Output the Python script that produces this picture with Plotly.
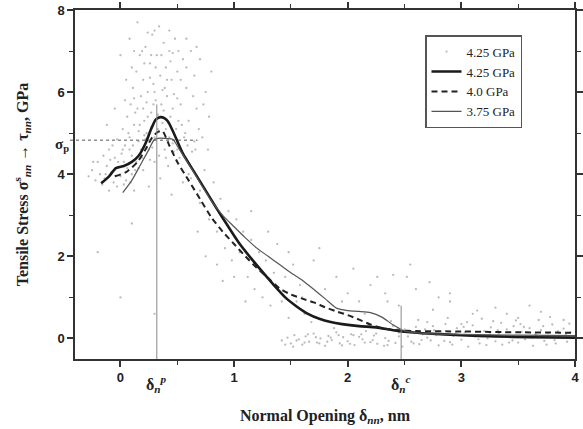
import plotly.graph_objects as go

# ---- data ----
thick_x = [-0.17, -0.1, -0.04, 0.03, 0.1, 0.16, 0.22, 0.27, 0.31, 0.35, 0.39, 0.42, 0.47, 0.55, 0.65, 0.75, 0.85, 0.95,
           1.05, 1.15, 1.25, 1.35, 1.45, 1.55, 1.65, 1.75, 1.85, 1.95, 2.1, 2.25, 2.4, 2.55, 2.7, 3.0, 3.3, 3.6, 4.0]
thick_y = [3.78, 3.95, 4.15, 4.2, 4.3, 4.45, 4.75, 5.1, 5.33, 5.39, 5.36, 5.28, 5.0, 4.5, 4.05, 3.6, 3.15, 2.72,
           2.3, 1.95, 1.62, 1.3, 1.0, 0.78, 0.6, 0.48, 0.4, 0.35, 0.3, 0.27, 0.2, 0.15, 0.12, 0.08, 0.05, 0.03, 0.02]

dash_x = [-0.05, 0.05, 0.15, 0.22, 0.28, 0.33, 0.37, 0.43, 0.5, 0.6, 0.7, 0.8, 0.9, 1.0, 1.1, 1.2, 1.3, 1.4, 1.5,
          1.6, 1.7, 1.8, 1.9, 2.0, 2.1, 2.2, 2.3, 2.45, 2.6, 3.0, 3.5, 4.0]
dash_y = [3.95, 4.05, 4.3, 4.6, 4.9, 5.03, 5.05, 4.7, 4.3, 3.85, 3.4, 2.95, 2.6, 2.3, 2.0, 1.72, 1.47, 1.22, 1.07,
          0.97, 0.88, 0.76, 0.66, 0.57, 0.46, 0.34, 0.25, 0.2, 0.18, 0.17, 0.15, 0.14]

thin_x = [0.02, 0.1, 0.18, 0.25, 0.3, 0.35, 0.4, 0.46, 0.52, 0.6, 0.7, 0.8, 0.9, 1.0, 1.1, 1.2, 1.3, 1.4, 1.5, 1.6,
          1.7, 1.8, 1.9, 2.0, 2.1, 2.2, 2.3, 2.4, 2.5, 2.7, 3.0, 3.5, 4.0]
thin_y = [3.55, 3.85, 4.25, 4.6, 4.85, 4.88, 4.87, 4.85, 4.6, 4.25, 3.8, 3.35, 3.0, 2.72, 2.45, 2.2, 2.0, 1.8, 1.6,
          1.42, 1.2, 0.97, 0.74, 0.68, 0.66, 0.63, 0.52, 0.33, 0.18, 0.12, 0.1, 0.08, 0.07]

# scattered raw data points (4.25 GPa) as (x, y) pairs
cloud_pts = [(-0.28, 3.95), (-0.25, 4.1), (-0.22, 3.85), (-0.2, 4.3), (-0.18, 4.0), (-0.15, 4.45), (-0.14, 3.9),
             (-0.12, 4.2), (-0.1, 4.6), (-0.08, 4.05), (-0.06, 3.8), (-0.05, 4.4), (-0.03, 4.85), (-0.02, 4.15),
             (0.0, 3.95), (0.01, 4.5), (0.02, 5.1), (0.03, 4.3), (0.04, 4.7), (0.05, 3.85), (0.06, 5.4),
             (0.07, 4.25), (0.08, 4.9), (0.09, 5.7), (0.1, 4.45), (0.11, 6.1), (0.12, 5.2), (0.13, 4.1),
             (0.14, 6.5), (0.15, 5.6), (0.16, 4.8), (0.17, 6.9), (0.18, 5.9), (0.19, 4.4), (0.2, 6.3),
             (0.21, 5.3), (0.22, 7.1), (0.23, 5.0), (0.24, 6.0), (0.25, 4.6), (0.26, 6.7), (0.27, 5.5),
             (0.28, 7.4), (0.29, 6.2), (0.3, 4.9), (0.31, 5.8), (0.32, 6.9), (0.33, 5.1), (0.34, 7.6),
             (0.35, 6.4), (0.36, 5.7), (0.37, 6.05), (0.38, 7.2), (0.39, 4.6), (0.4, 6.6), (0.41, 5.9),
             (0.42, 4.2), (0.43, 7.0), (0.44, 5.4), (0.45, 6.3), (0.46, 4.75), (0.47, 5.95), (0.48, 7.3),
             (0.49, 5.1), (0.5, 6.5), (0.52, 4.4), (0.53, 5.7), (0.55, 6.8), (0.56, 4.9), (0.58, 6.1),
             (0.6, 5.3), (0.62, 7.0), (0.63, 4.55), (0.65, 6.4), (0.67, 5.6), (0.7, 6.8), (0.72, 4.9),
             (0.75, 6.0), (0.78, 5.4), (0.8, 6.5), (0.05, 6.3), (-0.05, 5.6), (0.0, 6.9), (0.08, 7.3),
             (0.15, 7.7), (-0.12, 5.2), (0.25, 3.7), (0.12, 3.6), (0.35, 3.9), (0.45, 3.5), (0.55, 3.8),
             (-0.1, 3.6), (0.2, 4.1), (0.3, 4.3), (0.4, 4.4), (0.5, 4.6), (0.6, 4.0), (0.65, 4.8), (0.7, 3.6),
             (0.33, 5.45), (0.27, 5.15), (0.22, 4.85), (0.18, 4.6), (0.38, 5.55), (0.42, 5.25), (0.14, 4.3),
             (0.1, 4.0), (0.06, 4.15), (-0.02, 4.3), (-0.2, 2.1), (0.0, 1.0), (0.3, 0.6), (0.1, 2.8),
             (-0.16, 3.75), (-0.09, 4.35), (0.03, 3.75), (0.08, 4.6), (0.16, 5.05), (0.24, 5.4), (0.29, 5.7),
             (0.4, 5.1), (0.46, 5.6), (0.51, 5.3), (0.57, 5.0), (0.2, 5.6), (0.12, 5.85), (0.26, 6.35),
             (0.31, 6.6), (0.36, 6.9), (0.41, 6.3), (0.19, 7.0), (0.24, 7.45), (0.44, 6.75), (0.51, 7.0),
             (0.02, 4.6), (0.07, 5.0), (0.11, 4.7), (0.13, 5.5), (0.17, 5.2), (0.21, 4.95), (0.23, 5.75),
             (0.28, 4.65), (0.3, 6.0), (0.34, 4.45), (0.37, 5.25), (0.43, 4.9), (0.47, 4.55), (0.5, 5.85),
             (0.54, 5.2), (0.59, 4.7), (0.64, 5.9), (0.69, 5.1), (0.73, 5.7), (0.77, 4.6), (-0.07, 4.7),
             (-0.13, 4.0), (-0.24, 4.3), (-0.03, 3.7), (0.09, 3.8), (0.16, 4.15), (0.26, 4.35), (0.04, 5.8),
             (0.1, 6.6), (0.27, 6.9), (0.39, 6.1), (0.46, 6.95), (0.53, 6.3), (0.58, 6.6), (0.67, 7.1),
             (0.3, 7.5), (0.21, 6.7), (0.43, 7.5), (0.58, 7.3), (0.12, 7.0)]

tail_pts = [(0.62, 3.9), (0.66, 4.6), (0.7, 3.3), (0.74, 4.1), (0.78, 2.9), (0.82, 3.8), (0.85, 2.6), (0.88, 3.4),
            (0.92, 2.2), (0.95, 3.1), (0.98, 1.9), (1.02, 2.9), (1.05, 2.1), (1.08, 2.6), (1.12, 1.5), (1.15, 2.4),
            (1.18, 1.2), (1.22, 2.1), (1.25, 1.0), (1.28, 1.9), (1.32, 0.8), (1.35, 1.6), (1.38, 2.3), (1.42, 0.9),
            (1.45, 1.5), (1.48, 0.5), (1.52, 1.8), (1.55, 0.9), (1.58, 1.3), (1.62, 0.6), (0.9, 1.4), (0.75, 2.0),
            (1.1, 0.9), (1.7, 1.9), (1.8, 1.2), (1.9, 1.5), (2.0, 1.1), (2.1, 0.9), (2.2, 1.3), (2.35, 0.9),
            (2.55, 1.8), (2.6, 1.2), (2.75, 0.7), (2.9, 0.9), (3.1, 0.6), (3.3, 0.75), (3.5, 0.5), (3.7, 0.65),
            (3.9, 0.45), (2.4, 1.55), (2.05, 1.7), (1.75, 2.2), (2.26, 1.5), (2.52, 1.5), (2.72, 1.37),
            (2.9, 1.1), (2.33, 1.1), (3.14, 0.68),
            (0.68, 2.6), (0.85, 1.8), (1.0, 1.5), (1.15, 3.1), (1.3, 2.6), (1.48, 2.1), (1.6, 1.0), (1.68, 0.4),
            (1.95, 0.9), (2.15, 0.6), (2.45, 0.8), (2.8, 1.0), (3.0, 0.35), (3.4, 0.6), (3.6, 0.8)]

band_pts = [(1.42, -0.05), (1.47, 0.02), (1.5, -0.12), (1.53, 0.08), (1.57, -0.02), (1.6, -0.15), (1.63, 0.05),
            (1.66, -0.08), (1.7, 0.12), (1.73, -0.1), (1.76, 0.0), (1.8, -0.18), (1.83, 0.06), (1.86, -0.04),
            (1.9, 0.15), (1.93, -0.12), (1.96, 0.03), (2.0, -0.07), (2.03, 0.1), (2.06, -0.16), (2.1, 0.04),
            (2.13, -0.02), (2.16, 0.18), (2.2, -0.09), (2.23, 0.07), (2.26, -0.13), (2.3, 0.25), (2.33, 0.01),
            (2.36, -0.06), (2.4, 0.3), (2.42, -0.11), (2.45, 0.14), (2.48, -0.2), (2.5, 0.22), (2.53, 0.05),
            (2.56, -0.08), (2.6, 0.28), (2.63, -0.14), (2.66, 0.1), (2.7, 0.02), (2.73, -0.05), (2.76, 0.2),
            (2.8, -0.17), (2.83, 0.12), (2.86, 0.35), (2.9, -0.09), (2.93, 0.06), (2.96, 0.25), (3.0, -0.03),
            (3.03, 0.15), (3.06, -0.2), (3.1, 0.32), (3.13, 0.08), (3.16, -0.12), (3.2, 0.18), (3.23, 0.0),
            (3.26, 0.27), (3.3, -0.07), (3.33, 0.12), (3.36, -0.15), (3.4, 0.22), (3.43, 0.04), (3.46, 0.3),
            (3.5, -0.1), (3.53, 0.16), (3.56, -0.02), (3.6, 0.25), (3.63, -0.18), (3.66, 0.08), (3.7, 0.2),
            (3.73, -0.06), (3.76, 0.13), (3.8, 0.34), (3.83, -0.12), (3.86, 0.05), (3.9, 0.24), (3.93, -0.08),
            (3.96, 0.15), (3.99, 0.02),
            (1.45, -0.15), (1.55, -0.05), (1.65, 0.1), (1.75, -0.12), (1.85, 0.02), (1.95, -0.17), (2.05, 0.08),
            (2.15, -0.1), (2.25, 0.12), (2.35, -0.16), (2.45, 0.05), (2.55, 0.18), (2.65, -0.04), (2.75, 0.3),
            (2.85, -0.06), (2.95, 0.12), (3.05, 0.4), (3.15, -0.02), (3.25, 0.1), (3.35, 0.38), (3.45, -0.05),
            (3.55, 0.28), (3.65, 0.1), (3.75, -0.15), (3.85, 0.18), (3.95, 0.36), (2.38, 0.42), (2.62, 0.45),
            (2.88, 0.5), (3.18, 0.48), (3.48, 0.44), (3.78, 0.52),
            (1.52, -0.2), (1.62, -0.1), (1.72, 0.03), (1.82, -0.08), (1.92, 0.08), (2.02, -0.13), (2.12, 0.1),
            (2.22, -0.04), (2.32, -0.18), (2.44, 0.25), (2.58, -0.12), (2.68, 0.22), (2.78, 0.08), (2.92, -0.15),
            (3.02, 0.28), (3.12, 0.05), (3.22, -0.16), (3.32, 0.2), (3.42, -0.1), (3.52, 0.35), (3.62, 0.02),
            (3.72, 0.3), (3.82, -0.04), (3.92, 0.1), (1.88, 0.25), (2.18, 0.3), (2.7, 0.4), (3.28, 0.42),
            (3.68, 0.45)]

legend_names = ["4.25 GPa", "4.25 GPa", "4.0 GPa", "3.75 GPa"]
x_ticks = [0, 1, 2, 3, 4]
y_ticks = [0, 2, 4, 6, 8]
sigma_p = 4.83
delta_p = 0.32
delta_c = 2.47

SERIF = "Liberation Serif"
SANS = "Liberation Sans"

raw = cloud_pts + tail_pts + band_pts
raw_x = [p[0] for p in raw]
raw_y = [p[1] for p in raw]

fig = go.Figure()
fig.add_trace(go.Scatter(x=raw_x, y=raw_y, mode="markers", name=legend_names[0],
                         marker=dict(size=2.3, color="rgba(120,120,120,0.5)")))
fig.add_trace(go.Scatter(x=thick_x, y=thick_y, mode="lines", name=legend_names[1],
                         line=dict(color="#1a1a1a", width=2.6, shape="spline", smoothing=0.6)))
fig.add_trace(go.Scatter(x=dash_x, y=dash_y, mode="lines", name=legend_names[2],
                         line=dict(color="#222222", width=2, dash="6px,4px", shape="spline", smoothing=0.6)))
fig.add_trace(go.Scatter(x=thin_x, y=thin_y, mode="lines", name=legend_names[3],
                         line=dict(color="#555555", width=1.2, shape="spline", smoothing=0.6)))

# reference lines
fig.add_shape(type="line", xref="paper", yref="y", x0=-0.01, x1=0.245, y0=sigma_p, y1=sigma_p,
              line=dict(color="#555", width=1, dash="dot"))
fig.add_shape(type="line", xref="x", yref="y", x0=delta_p, x1=delta_p, y0=-0.5, y1=5.7,
              line=dict(color="#888", width=1))
fig.add_shape(type="line", xref="x", yref="y", x0=delta_c, x1=delta_c, y0=-0.5, y1=0.8,
              line=dict(color="#888", width=1))

fig.add_annotation(xref="paper", yref="y", x=-0.008, y=sigma_p - 0.12, text="<b>σ<sub>p</sub></b>",
                   showarrow=False, xanchor="right", yanchor="middle",
                   font=dict(family=SERIF, size=15, color="#222"))
fig.add_annotation(xref="x", yref="paper", x=delta_p, y=-0.035, text="<b>δ<sub><i>n</i></sub><sup><i>p</i></sup></b>",
                   showarrow=False, xanchor="center", yanchor="top",
                   font=dict(family=SERIF, size=16, color="#222"))
fig.add_annotation(xref="x", yref="paper", x=delta_c, y=-0.035, text="<b>δ<sub><i>n</i></sub><sup><i>c</i></sup></b>",
                   showarrow=False, xanchor="center", yanchor="top",
                   font=dict(family=SERIF, size=16, color="#222"))

axis_common = dict(showline=True, linecolor="#333", linewidth=1.5, mirror="allticks", ticks="outside",
                   ticklen=6, tickwidth=1.5, tickcolor="#333", showgrid=False, zeroline=False,
                   automargin=False,
                   tickfont=dict(family=SANS, size=13, color="#222", weight="bold"))

fig.update_xaxes(range=[-0.4, 4.0], tickvals=x_ticks, ticktext=[str(v) for v in x_ticks],
                 minor=dict(tickvals=[0.5, 1.5, 2.5, 3.5], ticklen=4, tickwidth=1.2, tickcolor="#333",
                            ticks="outside"),
                 title=dict(text="<b>Normal Opening δ<sub><i>nn</i></sub>, nm</b>", standoff=25,
                            font=dict(family=SERIF, size=16, color="#222")),
                 **axis_common)
fig.update_yaxes(range=[-0.5, 8.0], tickvals=y_ticks, ticktext=[str(v) for v in y_ticks],
                 minor=dict(tickvals=[1, 3, 5, 7], ticklen=4, tickwidth=1.2, tickcolor="#333",
                            ticks="outside"),
                 title=dict(text="<b>Tensile Stress σ<sup>s</sup><sub><i>nn</i></sub> → τ<sub><i>nn</i></sub>, GPa</b>",
                            standoff=25, font=dict(family=SERIF, size=16, color="#222")),
                 **axis_common)

fig.update_layout(
    width=583, height=429,
    margin=dict(l=75, r=8, t=10, b=70),
    paper_bgcolor="white", plot_bgcolor="white",
    showlegend=True,
    legend=dict(x=0.70, y=0.928, xanchor="left", yanchor="top", bgcolor="white",
                bordercolor="#555", borderwidth=1.5, itemwidth=30,
                font=dict(family=SERIF, size=13, color="#222"), tracegroupgap=0),
)

fig.write_html("out.html", config={"displayModeBar": False},
               post_script="document.body.style.margin='0';")
